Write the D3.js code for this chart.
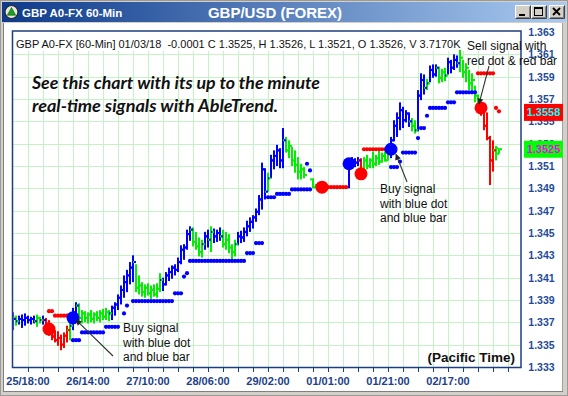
<!DOCTYPE html>
<html><head><meta charset="utf-8">
<script src="https://cdn.jsdelivr.net/npm/d3@7/dist/d3.min.js"></script>
<style>
body{margin:0;background:#fff}
svg{display:block}
text{font-family:"Liberation Sans",Arial,sans-serif}
</style>
</head><body>
<svg id="chart" width="568" height="396"></svg>
<script>
// ---------------- DATA ----------------
const barHigh = [
1.3379,1.3376,1.3376,1.3377,1.3378,1.3376,1.3375,1.3376,1.3377,1.3375,
1.3376,1.3374,1.3372,1.3367,1.3363,1.3362,1.3359,1.3361,1.3367,1.3370,
1.3383,1.3388,1.3387,1.3381,1.3380,1.3379,1.3381,1.3379,1.3380,1.3381,
1.3382,1.3383,1.3381,1.3385,1.3388,1.3395,1.3403,1.3412,1.3417,1.3424,
1.3430,1.3422,1.3412,1.3406,1.3404,1.3405,1.3403,1.3404,1.3405,1.3414,
1.3410,1.3415,1.3419,1.3421,1.3422,1.3428,1.3439,1.3440,1.3453,1.3456,
1.3455,1.3451,1.3446,1.3444,1.3451,1.3453,1.3456,1.3454,1.3453,1.3455,
1.3453,1.3451,1.3449,1.3440,1.3444,1.3451,1.3452,1.3455,1.3461,1.3464,
1.3466,1.3472,1.3484,1.3513,1.3508,1.3504,1.3520,1.3524,1.3529,1.3526,
1.3544,1.3536,1.3533,1.3527,1.3524,1.3518,1.3512,1.3509,null,null,
1.3499,1.3494,null,1.3493,null,null,null,null,null,null,
null,null,1.3517,1.3518,1.3517,1.3518,1.3517,1.3518,1.3520,1.3517,
1.3523,1.3520,1.3524,1.3522,1.3523,1.3524,1.3536,1.3551,1.3558,1.3567,
1.3563,1.3560,1.3558,1.3553,1.3551,1.3578,1.3593,1.3592,1.3588,1.3600,
1.3601,1.3601,1.3599,1.3597,1.3598,1.3607,1.3605,1.3610,1.3609,1.3614,
1.3605,1.3602,1.3596,1.3593,1.3582,1.3574,1.3566,1.3562,1.3558,1.3537,
1.3533,1.3528,1.3526];
const barLow = [
1.3363,1.3367,1.3368,1.3365,1.3367,1.3369,1.3368,1.3369,1.3366,1.3369,
1.3368,1.3365,1.3358,1.3354,1.3352,1.3349,1.3345,1.3347,1.3352,1.3354,
1.3363,1.3372,1.3370,1.3369,1.3370,1.3369,1.3370,1.3369,1.3371,1.3370,
1.3372,1.3372,1.3371,1.3372,1.3376,1.3381,1.3386,1.3392,1.3397,1.3404,
1.3406,1.3397,1.3395,1.3393,1.3392,1.3394,1.3391,1.3393,1.3392,1.3397,
1.3398,1.3403,1.3407,1.3409,1.3412,1.3415,1.3422,1.3426,1.3435,1.3443,
1.3438,1.3435,1.3429,1.3428,1.3435,1.3437,1.3433,1.3441,1.3442,1.3443,
1.3437,1.3435,1.3432,1.3426,1.3429,1.3439,1.3441,1.3442,1.3447,1.3451,
1.3454,1.3460,1.3466,1.3471,1.3480,1.3487,1.3499,1.3507,1.3510,1.3508,
1.3508,1.3522,1.3517,1.3510,1.3504,1.3498,1.3498,1.3499,null,null,
1.3490,1.3490,null,1.3490,null,null,null,null,null,null,
null,null,1.3490,1.3510,1.3509,1.3510,1.3502,1.3505,1.3507,1.3508,
1.3508,1.3510,1.3511,1.3513,1.3514,1.3515,1.3517,1.3532,1.3536,1.3542,
1.3544,1.3549,1.3545,1.3541,1.3539,1.3541,1.3569,1.3574,1.3578,1.3585,
1.3589,1.3590,1.3584,1.3585,1.3586,1.3592,1.3593,1.3596,1.3598,1.3594,
1.3589,1.3585,1.3578,1.3576,1.3567,1.3560,1.3555,1.3542,1.3533,1.3493,
1.3505,1.3515,1.3521];
const barOpen = [
1.3370,1.3374,1.3371,1.3373,1.3372,1.3374,1.3372,1.3373,1.3371,1.3374,
1.3372,1.3372,1.3369,1.3361,1.3358,1.3354,1.3356,1.3350,1.3358,1.3363,
1.3367,1.3379,1.3385,1.3374,1.3378,1.3374,1.3377,1.3373,1.3377,1.3374,
1.3378,1.3375,1.3379,1.3378,1.3383,1.3386,1.3392,1.3399,1.3406,1.3412,
1.3419,1.3424,1.3401,1.3403,1.3397,1.3401,1.3396,1.3399,1.3395,1.3400,
1.3408,1.3404,1.3412,1.3415,1.3419,1.3417,1.3424,1.3435,1.3437,1.3449,
1.3453,1.3442,1.3438,1.3433,1.3440,1.3447,1.3444,1.3451,1.3447,1.3450,
1.3447,1.3440,1.3444,1.3437,1.3433,1.3440,1.3447,1.3446,1.3451,1.3456,
1.3460,1.3464,1.3469,1.3480,1.3507,1.3487,1.3499,1.3515,1.3519,1.3524,
1.3515,1.3533,1.3524,1.3528,1.3515,1.3511,1.3505,1.3507,null,null,
1.3498,1.3491,null,1.3491,null,null,null,null,null,null,
null,null,1.3491,1.3514,1.3515,1.3513,1.3515,1.3505,1.3515,1.3510,
1.3515,1.3512,1.3517,1.3514,1.3519,1.3515,1.3521,1.3533,1.3546,1.3553,
1.3560,1.3551,1.3557,1.3550,1.3546,1.3542,1.3573,1.3587,1.3580,1.3584,
1.3596,1.3592,1.3598,1.3589,1.3594,1.3591,1.3603,1.3598,1.3605,1.3602,
1.3607,1.3594,1.3598,1.3584,1.3587,1.3573,1.3564,1.3558,1.3546,1.3535,
1.3515,1.3524,1.3526];
const barClose = [
1.3373,1.3371,1.3373,1.3372,1.3374,1.3372,1.3373,1.3371,1.3374,1.3372,
1.3372,1.3368,1.3361,1.3357,1.3354,1.3356,1.3350,1.3358,1.3363,1.3367,
1.3379,1.3385,1.3374,1.3378,1.3374,1.3377,1.3373,1.3377,1.3374,1.3378,
1.3375,1.3379,1.3378,1.3383,1.3386,1.3392,1.3399,1.3406,1.3412,1.3419,
1.3424,1.3401,1.3403,1.3397,1.3401,1.3396,1.3399,1.3395,1.3400,1.3408,
1.3404,1.3412,1.3415,1.3419,1.3417,1.3424,1.3435,1.3437,1.3449,1.3453,
1.3442,1.3438,1.3433,1.3440,1.3447,1.3444,1.3451,1.3447,1.3450,1.3447,
1.3440,1.3444,1.3437,1.3433,1.3440,1.3447,1.3446,1.3451,1.3456,1.3460,
1.3464,1.3469,1.3480,1.3507,1.3487,1.3499,1.3515,1.3519,1.3524,1.3515,
1.3533,1.3524,1.3528,1.3515,1.3511,1.3505,1.3507,1.3502,null,null,
1.3491,1.3491,null,1.3490,null,null,null,null,null,null,
null,null,1.3514,1.3515,1.3513,1.3515,1.3505,1.3515,1.3510,1.3515,
1.3512,1.3517,1.3514,1.3519,1.3515,1.3521,1.3533,1.3546,1.3553,1.3560,
1.3551,1.3557,1.3550,1.3546,1.3542,1.3573,1.3587,1.3580,1.3584,1.3596,
1.3592,1.3598,1.3589,1.3594,1.3591,1.3603,1.3598,1.3605,1.3602,1.3607,
1.3594,1.3598,1.3584,1.3587,1.3573,1.3564,1.3558,1.3546,1.3535,1.3515,
1.3524,1.3521,1.3525];
// B = up trend (blue), G = neutral (green), R = down trend (red), . = no bar
const barTrend = (
"BGBBBBBBGG" + "BRRRRRRRRG" + "BBGGGGGGGG" + "GGGBBBBBBB" + "BGGGGGGGGG" +
"BBBBBBBBBB" + "GGGGBBGBBB" + "GGGGGBBBBB" + "BBBBBGBBBB" + "BGGGGGGG.." +
"GG.R......" + "..BBBBRGGG" + "GGGGGGBBBB" + "BBBGGBBBGB" + "BBGGGBBBBG" +
"GGGGGGRRRR" + "RGG").split("");

// trailing stop dots: [first bar, last bar, level]
const blueStopRuns = [[20,22,1.3354],[23,30,1.3361],[31,35,1.3366],[37,37,1.3378],[38,38,1.3385],
 [40,53,1.3389],[54,56,1.3396],[57,57,1.3411],[58,58,1.3414],[59,77,1.3425],[78,80,1.3432],
 [81,83,1.3441],[85,87,1.3482],[88,92,1.3485],[93,99,1.3489],[98,98,1.3512],[99,99,1.3506],
 [126,128,1.3509],[129,129,1.3514],[130,134,1.3522],[135,135,1.3535],[136,137,1.3544],
 [138,138,1.3555],[139,144,1.3562],[145,147,1.3567],[148,154,1.3576]];
const redStopRuns = [[12,13,1.3380],[14,19,1.3376],[104,111,1.3491],[117,125,1.3525],
 [155,160,1.3593],[161,161,1.3562],[162,162,1.3559]];

// big signal dots
const buySignalBar = [20,112,126];
const buySignalPrice = [1.3374,1.3512,1.3525];
const sellSignalBar = [12,103,116,156];
const sellSignalPrice = [1.3364,1.3491,1.3503,1.3562];

// axes
const priceTicks = [1.333,1.335,1.337,1.339,1.341,1.343,1.345,1.347,1.349,1.351,1.353,1.355,1.357,1.359,1.361,1.363];
const timeLabelBar = [5,25,45,65,85,105,125,145];
const timeLabels = ["25/18:00","26/14:00","27/10:00","28/06:00","29/02:00","01/01:00","01/21:00","02/17:00"];
const lastPrices = [1.3558, 1.3525];

// ---------------- DRAWING ----------------
const svg = d3.select("#chart");
const PL = 12.5, PR = 521, PT = 31, PB = 367.5;
const x = d3.scaleLinear().domain([0,169.33]).range([13,521]);
const y = d3.scaleLinear().domain([1.333,1.363]).range([367,32]);
const colorOf = {B:"#0000ff", G:"#00ee00", R:"#ff0000"};

const defs = svg.append("defs");
const grad = defs.append("linearGradient").attr("id","tb").attr("x1","0").attr("x2","1").attr("y1","0").attr("y2","0");
grad.append("stop").attr("offset","0").attr("stop-color","#0d3a8a");
grad.append("stop").attr("offset","1").attr("stop-color","#a9caf0");
defs.append("clipPath").attr("id","clip").append("rect")
  .attr("x",PL+0.75).attr("y",PT+0.75).attr("width",PR-PL-1.5).attr("height",PB-PT-1.5);
defs.append("marker").attr("id","arr").attr("viewBox","0 0 10 10").attr("refX",9).attr("refY",5)
  .attr("markerWidth",7).attr("markerHeight",6).attr("orient","auto").attr("markerUnits","userSpaceOnUse")
  .append("path").attr("d","M0,0 L10,5 L0,10 z").attr("fill","#222");

// window frame
svg.append("rect").attr("width",568).attr("height",396).attr("fill","#d4d0c8");
svg.append("rect").attr("x",3).attr("y",23).attr("width",560).attr("height",368).attr("fill","#fff");
svg.append("line").attr("x1",3.5).attr("x2",3.5).attr("y1",23).attr("y2",391).attr("stroke","#808080");
svg.append("line").attr("x1",3).attr("x2",563).attr("y1",391.5).attr("y2",391.5).attr("stroke","#808080");
svg.append("line").attr("x1",562.5).attr("x2",562.5).attr("y1",23).attr("y2",391).attr("stroke","#a0a0a0");
svg.append("rect").attr("x",0.5).attr("y",0.5).attr("width",567).attr("height",395).attr("fill","none").attr("stroke","#9a9a9a");

// title bar
svg.append("rect").attr("x",2).attr("y",2).attr("width",564).attr("height",20).attr("fill","url(#tb)");
const icon = svg.append("g").attr("transform","translate(11.5,12)");
icon.append("circle").attr("r",6.5).attr("fill","#e8e8e8").attr("stroke","#2a2a2a").attr("stroke-width",1.2);
icon.append("path").attr("d","M0,-4.5 L4.2,3.2 L-4.2,3.2 Z").attr("fill","#1aa01a").attr("stroke","#0a5a0a").attr("stroke-width",0.6);
svg.append("text").attr("x",22).attr("y",16.5).attr("fill","#fff").attr("font-weight","bold").attr("font-size",11.5).text("GBP A0-FX 60-Min");
svg.append("text").attr("x",275).attr("y",18).attr("text-anchor","middle").attr("fill","#fff").attr("font-weight","bold").attr("font-size",15).text("GBP/USD (FOREX)");
function button(x0, glyph){
  const g = svg.append("g").attr("transform",`translate(${x0},5)`);
  g.append("rect").attr("width",16).attr("height",14).attr("fill","#d4d0c8");
  g.append("path").attr("d","M0.5,13.5 V0.5 H15.5").attr("fill","none").attr("stroke","#fff");
  g.append("path").attr("d","M0.5,13.5 H15.5 V0.5").attr("fill","none").attr("stroke","#404040");
  g.append("path").attr("d","M1.5,12.5 H14.5 V1.5").attr("fill","none").attr("stroke","#808080");
  glyph(g);
}
button(515, g=>g.append("rect").attr("x",4).attr("y",9).attr("width",6).attr("height",2).attr("fill","#000"));
button(531, g=>{g.append("rect").attr("x",3.5).attr("y",2.5).attr("width",8).attr("height",8).attr("fill","none").attr("stroke","#000");
  g.append("rect").attr("x",3).attr("y",2).attr("width",9).attr("height",2).attr("fill","#000");});
button(549, g=>g.append("path").attr("d","M4,3 L11,10 M11,3 L4,10").attr("stroke","#000").attr("stroke-width",1.8));

// grid
const gridBars = d3.range(5,170,5);
svg.append("g").selectAll("line").data(gridBars).join("line")
  .attr("x1",d=>Math.round(x(d))+0.5).attr("x2",d=>Math.round(x(d))+0.5).attr("y1",PT).attr("y2",PB)
  .attr("stroke","#c6f3c6").attr("stroke-width",1);
svg.append("g").selectAll("line").data(priceTicks.slice(1,-1)).join("line")
  .attr("x1",PL).attr("x2",PR).attr("y1",d=>Math.round(y(d))+0.5).attr("y2",d=>Math.round(y(d))+0.5)
  .attr("stroke","#c6f3c6").attr("stroke-width",1);
// header band
svg.append("rect").attr("x",PL+1).attr("y",PT+1).attr("width",PR-PL-2).attr("height",19).attr("fill","#fff");

// plot content
const plot = svg.append("g").attr("clip-path","url(#clip)");
const bars = d3.range(barHigh.length).filter(i=>barHigh[i]!=null).map(i=>({
  i, h:barHigh[i], l:barLow[i], o:barOpen[i], c:barClose[i], col:colorOf[barTrend[i]]}));
const bg = plot.append("g");
bg.selectAll("rect.v").data(bars).join("rect").attr("class","v")
  .attr("x",d=>x(d.i)-1).attr("y",d=>y(d.h)).attr("width",2)
  .attr("height",d=>Math.max(2,y(d.l)-y(d.h))).attr("fill",d=>d.col);
bg.selectAll("rect.o").data(bars).join("rect").attr("class","o")
  .attr("x",d=>x(d.i)-3).attr("y",d=>y(d.o)-1).attr("width",2).attr("height",2).attr("fill",d=>d.col);
bg.selectAll("rect.c").data(bars).join("rect").attr("class","c")
  .attr("x",d=>x(d.i)+1).attr("y",d=>y(d.c)-1).attr("width",2).attr("height",2).attr("fill",d=>d.col);

function expand(runs){ const out=[]; runs.forEach(([a,b,v])=>{ for(let i=a;i<=b;i++) out.push({i,v}); }); return out; }
plot.append("g").selectAll("circle").data(expand(blueStopRuns)).join("circle")
  .attr("cx",d=>x(d.i)).attr("cy",d=>y(d.v)).attr("r",2.1).attr("fill","#0000ff");
plot.append("g").selectAll("circle").data(expand(redStopRuns)).join("circle")
  .attr("cx",d=>x(d.i)).attr("cy",d=>y(d.v)).attr("r",2.1).attr("fill","#ff0000");
plot.append("g").selectAll("circle").data(buySignalBar.map((b,k)=>({i:b,v:buySignalPrice[k]}))).join("circle")
  .attr("cx",d=>x(d.i)).attr("cy",d=>y(d.v)).attr("r",6.5).attr("fill","#0000ff");
plot.append("g").selectAll("circle").data(sellSignalBar.map((b,k)=>({i:b,v:sellSignalPrice[k]}))).join("circle")
  .attr("cx",d=>x(d.i)).attr("cy",d=>y(d.v)).attr("r",6.5).attr("fill","#ff0000");

// plot frame
svg.append("rect").attr("x",PL).attr("y",PT).attr("width",PR-PL).attr("height",PB-PT)
  .attr("fill","none").attr("stroke","#1b3f80").attr("stroke-width",1.5);

// x axis ticks and labels
svg.append("g").selectAll("line").data(gridBars).join("line")
  .attr("x1",d=>Math.round(x(d))+0.5).attr("x2",d=>Math.round(x(d))+0.5).attr("y1",PB).attr("y2",PB+4.5)
  .attr("stroke","#1b3f80").attr("stroke-width",1);
svg.append("g").selectAll("text").data(timeLabelBar).join("text")
  .attr("x",d=>x(d)).attr("y",384.5).attr("text-anchor","middle").attr("font-size",11).attr("font-weight","bold")
  .attr("fill","#1d4189").text((d,k)=>timeLabels[k]);
// y axis labels
svg.append("g").selectAll("text").data(priceTicks).join("text")
  .attr("x",541.5).attr("y",d=>y(d)+4).attr("text-anchor","middle").attr("font-size",10.5).attr("font-weight","bold")
  .attr("fill","#1d4a9a").text(d=>d.toFixed(3));
// last price boxes
const lp = [{v:lastPrices[0],bg:"#ff0000",fg:"#00ffff"},{v:lastPrices[1],bg:"#00ff00",fg:"#ff00ff"}];
lp.forEach(p=>{
  svg.append("rect").attr("x",524).attr("y",y(p.v)-8.5).attr("width",39).attr("height",17).attr("fill",p.bg);
  svg.append("text").attr("x",543.5).attr("y",y(p.v)+4).attr("text-anchor","middle").attr("font-size",11)
    .attr("font-weight","bold").attr("fill",p.fg).text(p.v.toFixed(4));
});

// header
svg.append("text").attr("x",16).attr("y",48).attr("font-size",11).attr("fill","#111").style("white-space","pre")
  .text("GBP A0-FX [60-Min] 01/03/18  -0.0001 C 1.3525, H 1.3526, L 1.3521, O 1.3526, V 3.7170K");

// promo text
const promo = svg.append("g").attr("font-family","Lato, 'Open Sans', sans-serif").attr("font-style","italic")
  .attr("font-weight","bold").attr("font-size",16.5).attr("fill","#111");
promo.append("text").attr("x",32).attr("y",89).attr("textLength",288).attr("lengthAdjust","spacingAndGlyphs")
  .style("font-family","Lato, 'Open Sans', sans-serif").text("See this chart with its up to the minute");
promo.append("text").attr("x",32).attr("y",112).attr("textLength",246).attr("lengthAdjust","spacingAndGlyphs")
  .style("font-family","Lato, 'Open Sans', sans-serif").text("real-time signals with AbleTrend.");

// annotations
function note(x0, y0, lines){
  const t = svg.append("text").attr("font-size",12).attr("fill","#111");
  lines.forEach((s,k)=>t.append("tspan").attr("x",x0).attr("y",y0+k*14.5).text(s));
}
note(123,332,["Buy signal","with blue dot","and blue bar"]);
note(380,193,["Buy signal","with blue dot","and blue bar"]);
note(467,50,["Sell signal with","red dot & red bar"]);
function arrow(x1,y1,x2,y2){
  svg.append("line").attr("x1",x1).attr("y1",y1).attr("x2",x2).attr("y2",y2)
    .attr("stroke","#333").attr("stroke-width",1.1).attr("marker-end","url(#arr)");
}
arrow(113,356, x(buySignalBar[0])+3, y(buySignalPrice[0])+2);
arrow(407,182, x(buySignalBar[2])+5, y(buySignalPrice[2])+5);
arrow(489,66, x(sellSignalBar[3])-2, y(sellSignalPrice[3])-4);

svg.append("text").attr("x",515).attr("y",362).attr("text-anchor","end").attr("font-size",13.5)
  .attr("font-weight","bold").attr("fill","#111").text("(Pacific Time)");
</script>
</body></html>
